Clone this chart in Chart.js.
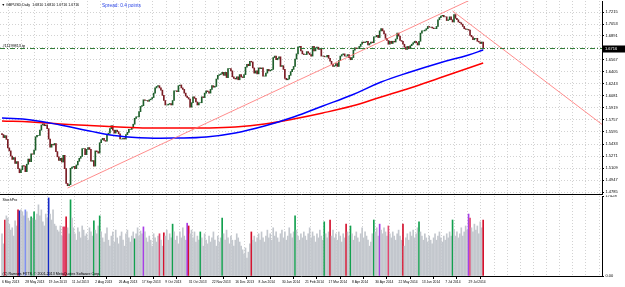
<!DOCTYPE html>
<html>
<head>
<meta charset="utf-8">
<script src="https://cdn.jsdelivr.net/npm/chart.js@4.4.1/dist/chart.umd.min.js"></script>
<style>
  html, body { margin: 0; padding: 0; background: #fff; }
  #wrap { position: relative; width: 625px; height: 287px; overflow: hidden; background: #fff; }
  #main { position: absolute; left: 0; top: 0; }
  #vol { position: absolute; left: 0; top: 195px; }
</style>
</head>
<body>
<div id="wrap">
  <canvas id="main" width="625" height="195"></canvas>
  <canvas id="vol" width="625" height="92"></canvas>
</div>
<script>
// date labels on the time axis, one every 16 daily bars
const dateLabels = ['6 May 2013', '28 May 2013', '19 Jun 2013', '11 Jul 2013', '2 Aug 2013', '26 Aug 2013',
  '17 Sep 2013', '9 Oct 2013', '31 Oct 2013', '22 Nov 2013', '16 Dec 2013', '8 Jan 2014', '30 Jan 2014',
  '21 Feb 2014', '17 Mar 2014', '8 Apr 2014', '30 Apr 2014', '22 May 2014', '13 Jun 2014', '7 Jul 2014', '29 Jul 2014'];

// price axis labels
const priceTicks = [1.7215, 1.7053, 1.6891, 1.6729, 1.6567, 1.6405, 1.6243, 1.6081, 1.5919, 1.5757,
  1.5595, 1.5433, 1.5271, 1.5109, 1.4947, 1.4785];

// GBPUSD daily closes, one row per week
const firstOpen = 1.5575;
const closes = [
  1.5560, 1.5520, 1.5545, 1.5495, 1.5380,
  1.5340, 1.5270, 1.5225, 1.5250, 1.5170,
  1.5195, 1.5100, 1.5045, 1.5085, 1.5140,
  1.5135, 1.5060, 1.5160, 1.5230, 1.5195,
  1.5300, 1.5295, 1.5350, 1.5530, 1.5550,
  1.5550, 1.5620, 1.5690, 1.5705, 1.5680,
  1.5690, 1.5640, 1.5500, 1.5390, 1.5430,
  1.5420, 1.5440, 1.5330, 1.5260, 1.5210,
  1.5240, 1.5190, 1.5280, 1.5100, 1.4900,
  1.4870, 1.4885, 1.5105, 1.5120, 1.5130,
  1.5100, 1.5150, 1.5200, 1.5240, 1.5265,
  1.5370, 1.5370, 1.5290, 1.5360, 1.5385,
  1.5360, 1.5200, 1.5210, 1.5135, 1.5340,
  1.5330, 1.5310, 1.5450, 1.5490, 1.5510,
  1.5480, 1.5470, 1.5560, 1.5580, 1.5640,
  1.5680, 1.5620, 1.5580, 1.5620, 1.5600,
  1.5570, 1.5500, 1.5500, 1.5510, 1.5500,
  1.5560, 1.5590, 1.5630, 1.5630, 1.5650,
  1.5700, 1.5780, 1.5800, 1.5800, 1.5870,
  1.5940, 1.5950, 1.6030, 1.6020, 1.6020,
  1.6010, 1.6030, 1.6040, 1.6060, 1.6120,
  1.6190, 1.6210, 1.6220, 1.6190, 1.6160,
  1.6090, 1.6020, 1.5960, 1.5960, 1.5970,
  1.5980, 1.5960, 1.6020, 1.6150, 1.6150,
  1.6140, 1.6220, 1.6230, 1.6190, 1.6170,
  1.6120, 1.6080, 1.6060, 1.6040, 1.5930,
  1.5990, 1.6070, 1.6050, 1.6000, 1.5960,
  1.5990, 1.5990, 1.6070, 1.6060, 1.6120,
  1.6150, 1.6140, 1.6120, 1.6170, 1.6220,
  1.6200, 1.6210, 1.6310, 1.6360, 1.6370,
  1.6380, 1.6400, 1.6360, 1.6400, 1.6330,
  1.6450, 1.6450, 1.6420, 1.6340, 1.6320,
  1.6310, 1.6340, 1.6300, 1.6370, 1.6340,
  1.6330, 1.6370, 1.6470, 1.6510,
  1.6490, 1.6550, 1.6540, 1.6460, 1.6390,
  1.6420, 1.6380, 1.6460, 1.6450, 1.6460,
  1.6350, 1.6350, 1.6390, 1.6440, 1.6420,
  1.6430, 1.6440, 1.6600, 1.6620, 1.6570,
  1.6590, 1.6610, 1.6480, 1.6490, 1.6440,
  1.6320, 1.6300, 1.6310, 1.6360, 1.6410,
  1.6440, 1.6480, 1.6580, 1.6650, 1.6740,
  1.6750, 1.6690, 1.6650, 1.6640, 1.6640,
  1.6680, 1.6660, 1.6640, 1.6620, 1.6750,
  1.6690, 1.6730, 1.6740, 1.6710, 1.6720,
  1.6620, 1.6620, 1.6610, 1.6610, 1.6630,
  1.6590, 1.6550, 1.6510, 1.6480, 1.6490,
  1.6520, 1.6480, 1.6560, 1.6620, 1.6640,
  1.6650, 1.6620, 1.6620, 1.6640, 1.6600,
  1.6570, 1.6600, 1.6700, 1.6730, 1.6720,
  1.6720, 1.6750, 1.6780, 1.6810, 1.6800,
  1.6810, 1.6820, 1.6770, 1.6790, 1.6810,
  1.6800, 1.6880, 1.6880, 1.6900, 1.6870,
  1.6960, 1.6990, 1.6960, 1.6920, 1.6860,
  1.6830, 1.6780, 1.6820, 1.6790, 1.6820,
  1.6810, 1.6850, 1.6930, 1.6890, 1.6830,
  1.6820, 1.6780, 1.6740, 1.6710, 1.6750,
  1.6720, 1.6760, 1.6780, 1.6800, 1.6820,
  1.6800, 1.6770, 1.6820, 1.6930, 1.6960,
  1.6960, 1.6970, 1.6990, 1.7020, 1.7010,
  1.7010, 1.7000, 1.6990, 1.6990, 1.7020,
  1.7110, 1.7140, 1.7160, 1.7170, 1.7150,
  1.7150, 1.7100, 1.7110, 1.7150, 1.7110,
  1.7080, 1.7180, 1.7130, 1.7110, 1.7080,
  1.7070, 1.7050, 1.7020, 1.6990, 1.6980,
  1.6980, 1.6970, 1.6900, 1.6880, 1.6840,
  1.6860, 1.6860, 1.6820, 1.6810, 1.6790,
  1.6810, 1.6716
];

// indicator volumes, one per bar
const volumes = [
  9200, 7000, 12200, 13100, 12600, 11300, 10000, 10500, 8700, 12000, 10900, 14400, 14200, 14400, 14000, 13100,
  14400, 14000, 12600, 12000, 12900, 12600, 14000, 12200, 13500, 15500, 13100, 14400, 11800, 10900, 13500, 12600,
  17000, 13500, 12200, 14400, 11300, 10900, 10000, 9600, 10900, 8700, 10700, 10700, 12900, 10500, 9200, 16600,
  12600, 10500, 9200, 7800, 10500, 9600, 8300, 10900, 10000, 8700, 9200, 7800, 10500, 9600, 8700, 12000,
  10000, 9200, 10900, 13100, 9600, 8300, 7400, 9200, 10500, 7800, 6500, 8700, 9600, 7400, 10000, 8300,
  7000, 8700, 9600, 7800, 6500, 9200, 10000, 8300, 7400, 8700, 9600, 8100, 9200, 10500, 8700, 9800,
  9200, 10700, 9600, 8300, 7400, 8700, 7800, 6500, 9200, 8300, 7400, 8700, 9200, 7800, 6500, 9400,
  8700, 10000, 7800, 9200, 8300, 11300, 9600, 7800, 8700, 7000, 9600, 8300, 10500, 8700, 7800, 11500,
  10900, 9200, 10000, 8300, 9600, 7400, 8700, 7800, 9600, 8300, 6500, 9200, 7800, 7000, 8700, 7400,
  8300, 9600, 7800, 6500, 8700, 7400, 8300, 12600, 9200, 7800, 10000, 8300, 7000, 8700, 7800, 6500,
  7800, 9200, 8300, 7400, 6500, 5700, 4800, 6100, 3900, 5200, 7000, 9600, 7800, 8700, 7400, 8300,
  9200, 7800, 9600, 8300, 7400, 8700, 10000, 8300, 9200, 7800, 10500, 8700, 9600, 8300, 7400, 9200,
  10000, 8300, 9600, 7800, 8700, 10500, 9200, 8300, 9600, 13100, 10000, 8700, 7800, 9200, 8300, 9600,
  8700, 7800, 9200, 10500, 8300, 9600, 8700, 7400, 9200, 8300, 10000, 8700, 7800, 11800, 9200, 8300,
  9600, 12200, 8700, 10000, 8300, 9200, 7800, 9600, 8700, 7400, 9200, 8300, 11300, 9600, 8700, 10900,
  9200, 7800, 8700, 9600, 8300, 7400, 9200, 10500, 8300, 9600, 8700, 7800, 6500, 7400, 9200, 12200,
  9600, 10500, 8700, 11300, 10000, 9200, 10500, 9600, 8700, 10900, 9200, 8300, 9600, 8700, 7800, 9200,
  10000, 8700, 7800, 11300, 6500, 8300, 9200, 7800, 9600, 8700, 10000, 8300, 9200, 10500, 11800, 9600,
  8700, 7800, 9200, 8300, 7400, 8700, 7800, 7000, 8300, 9200, 7800, 8700, 9600, 8300, 7400, 8700,
  7800, 9200, 8300, 9600, 8700, 12200, 10000, 8700, 9600, 8300, 9200, 10500, 8700, 9600, 10900, 10000,
  13500, 12600, 10500, 9600, 11300, 10000, 10900, 9200, 11800, 10500, 12200
];
const volumeMax = 17428;

// bars the indicator paints in a colour other than grey
const redBars = [2, 11, 44, 111, 128, 171, 225, 236, 275, 330];
const greenBars = [20, 22, 47, 63, 67, 91, 117, 136, 151, 201, 221, 239, 255, 286, 309];
const blueBars = [12, 32];
const lightBlueBars = [16];
const violetBars = [97, 127, 259, 320];
const pinkBars = [42, 43, 108, 265, 321];

// moving averages read at every 20th bar
const maBars = [0, 20, 40, 60, 80, 100, 120, 140, 160, 180, 200, 220, 240, 260, 280, 300, 320, 330];
const blueMa = [1.5784, 1.5757, 1.5690, 1.5609, 1.5541, 1.5514, 1.5514, 1.5528, 1.5582, 1.5676,
  1.5798, 1.5946, 1.6095, 1.6270, 1.6405, 1.6527, 1.6635, 1.6702];
const redMa = [1.5744, 1.5730, 1.5703, 1.5683, 1.5663, 1.5649, 1.5649, 1.5649, 1.5663, 1.5703,
  1.5771, 1.5852, 1.5946, 1.6068, 1.6189, 1.6324, 1.6459, 1.6527];

// hand drawn trend lines (bar, price)
const trendUp = [[45, 1.4839], [321, 1.7377]];
const trendDown = [[309, 1.7229], [412, 1.5690]];
const tpLevel = 1.6722;
const tpLabel = '#11199813 tp';

const nBars = closes.length;
const xMin = -1.37, xMax = 411.5;
const gridTicks = [];
for (let v = 0; v <= 410; v += 9) gridTicks.push(v);
const dateTicks = dateLabels.map((d, i) => i * 16);

const opens = closes.map((c, i) => (i ? closes[i - 1] : firstOpen));
const candleData = closes.map((c, i) => ({ x: i, y: [opens[i], c] }));
const candleColors = closes.map((c, i) => (c >= opens[i] ? '#1d5e2a' : '#7a1c24'));

const lastClose = closes[nBars - 1];
const lastOpen = opens[nBars - 1];
const titleText = 'GBPUSD,Daily  ' + lastOpen.toFixed(4) + ' ' + Math.max(lastOpen, lastClose).toFixed(4) + ' ' +
  Math.min(lastOpen, lastClose).toFixed(4) + ' ' + lastClose.toFixed(4);

const FONT = '"Liberation Sans", Arial, sans-serif';
const gridGrey = '#d2d2d2';

const mainText = {
  id: 'mainText',
  afterDraw(chart) {
    const { ctx, scales: { y } } = chart;
    ctx.save();
    ctx.textBaseline = 'middle';
    ctx.fillStyle = '#000';
    ctx.font = '3.6px ' + FONT;
    ctx.fillText('\u25BC', 1.5, 5);
    ctx.fillText(titleText, 6, 5);
    ctx.fillStyle = '#2b45e6';
    ctx.font = '4.8px ' + FONT;
    ctx.fillText('Spread: 0.4 points', 102, 6);
    const yt = y.getPixelForValue(tpLevel);
    ctx.fillStyle = '#000';
    ctx.font = '3.8px ' + FONT;
    ctx.fillText(tpLabel, 2.5, yt - 3);
    const yp = Math.round(y.getPixelForValue(lastClose));
    ctx.fillStyle = '#000';
    ctx.fillRect(602, yp - 3.5, 23, 7);
    ctx.fillStyle = '#fff';
    ctx.font = '4px ' + FONT;
    ctx.fillText(lastClose.toFixed(4), 605, yp);
    ctx.restore();
  }
};

new Chart(document.getElementById('main'), {
  type: 'bar',
  data: {
    datasets: [
      { type: 'line', data: [{ x: xMin, y: tpLevel }, { x: xMax, y: tpLevel }], borderColor: '#2f7a34',
        borderWidth: 1, borderDash: [5, 2, 1, 2], pointRadius: 0, order: 0 },
      { type: 'line', data: trendUp.map(p => ({ x: p[0], y: p[1] })), borderColor: '#ff7070',
        borderWidth: 0.8, pointRadius: 0, order: 1 },
      { type: 'line', data: trendDown.map(p => ({ x: p[0], y: p[1] })), borderColor: '#ff7070',
        borderWidth: 0.8, pointRadius: 0, order: 1 },
      { type: 'line', data: maBars.map((b, i) => ({ x: b, y: blueMa[i] })), borderColor: '#0000ff',
        borderWidth: 1.5, pointRadius: 0, tension: 0.4, order: 2 },
      { type: 'line', data: maBars.map((b, i) => ({ x: b, y: redMa[i] })), borderColor: '#ff0000',
        borderWidth: 1.5, pointRadius: 0, tension: 0.4, order: 2 },
      { data: candleData, backgroundColor: candleColors, barThickness: 1, order: 3 }
    ]
  },
  options: {
    responsive: false,
    animation: false,
    devicePixelRatio: 1,
    layout: { padding: { top: 1, left: 0, right: 0, bottom: 0 } },
    plugins: { legend: { display: false }, tooltip: { enabled: false } },
    scales: {
      x: {
        type: 'linear', min: xMin, max: xMax, offset: false,
        afterBuildTicks: s => { s.ticks = gridTicks.map(v => ({ value: v })); },
        afterFit: s => { s.height = 1; s.paddingLeft = 0; s.paddingRight = 0; },
        ticks: { display: false },
        grid: { color: gridGrey, drawTicks: false },
        border: { display: true, color: '#000', dash: [1, 2] }
      },
      y: {
        position: 'right', min: 1.4758, max: 1.73635,
        afterBuildTicks: s => { s.ticks = priceTicks.map(v => ({ value: v })); },
        afterFit: s => { s.width = 23; s.paddingTop = 0; s.paddingBottom = 0; },
        ticks: { autoSkip: false, color: '#000', padding: 1.5, font: { size: 4, family: FONT },
          callback: v => v.toFixed(4) },
        grid: { color: gridGrey, tickColor: '#000', tickLength: 2 },
        border: { display: true, color: '#000', dash: [1, 2] }
      }
    }
  },
  plugins: [mainText]
});

const colorOf = i => redBars.includes(i) ? '#d4102c' : greenBars.includes(i) ? '#12a04e' :
  blueBars.includes(i) ? '#1428c8' : lightBlueBars.includes(i) ? '#7f8ff0' :
  violetBars.includes(i) ? '#a73fe6' : pinkBars.includes(i) ? '#e2456e' : '#c3c7cd';

const volText = {
  id: 'volText',
  afterDraw(chart) {
    const { ctx } = chart;
    ctx.save();
    ctx.textBaseline = 'middle';
    ctx.fillStyle = '#000';
    ctx.font = '3.6px ' + FONT;
    ctx.fillText('StochPro', 2.5, 4.5);
    ctx.fillText('(C) Ramses FXTS, \u00A9 2001-2013 MetaQuotes Software Corp.', 2.5, 79);
    ctx.restore();
  }
};

new Chart(document.getElementById('vol'), {
  type: 'bar',
  data: {
    datasets: [
      { data: volumes.map((v, i) => ({ x: i, y: v })), backgroundColor: volumes.map((v, i) => colorOf(i)),
        barThickness: 1 }
    ]
  },
  options: {
    responsive: false,
    animation: false,
    devicePixelRatio: 1,
    layout: { padding: { top: 1, left: 0, right: 0, bottom: 0 } },
    plugins: { legend: { display: false }, tooltip: { enabled: false } },
    scales: {
      x: {
        type: 'linear', min: xMin, max: xMax, offset: false, position: 'bottom',
        afterBuildTicks: s => { s.ticks = dateTicks.map(v => ({ value: v })); },
        afterFit: s => { s.height = 11; s.paddingLeft = 0; s.paddingRight = 0; },
        ticks: { autoSkip: false, maxRotation: 0, align: 'start', color: '#000', padding: 1,
          font: { size: 3.3, family: FONT }, callback: v => dateLabels[Math.round(v / 16)] },
        grid: { drawOnChartArea: false, tickColor: '#000', tickLength: 3 },
        border: { display: true, color: '#000' }
      },
      xg: {
        type: 'linear', min: xMin, max: xMax, offset: false, position: 'bottom',
        afterBuildTicks: s => { s.ticks = gridTicks.map(v => ({ value: v })); },
        afterFit: s => { s.height = 0; s.paddingLeft = 0; s.paddingRight = 0; },
        ticks: { display: false },
        grid: { color: gridGrey, drawTicks: false },
        border: { display: false, dash: [1, 2] }
      },
      y: {
        position: 'right', min: 0, max: volumeMax,
        afterBuildTicks: s => { s.ticks = [{ value: 0 }, { value: volumeMax }]; },
        afterFit: s => { s.width = 23; s.paddingTop = 0; s.paddingBottom = 0; },
        ticks: { autoSkip: false, color: '#000', padding: 1.5, font: { size: 4, family: FONT },
          callback: v => (v === 0 ? '0.00' : String(v)) },
        grid: { drawOnChartArea: false, tickColor: '#000', tickLength: 2 },
        border: { display: true, color: '#000' }
      }
    }
  },
  plugins: [volText]
});
</script>
</body>
</html>
